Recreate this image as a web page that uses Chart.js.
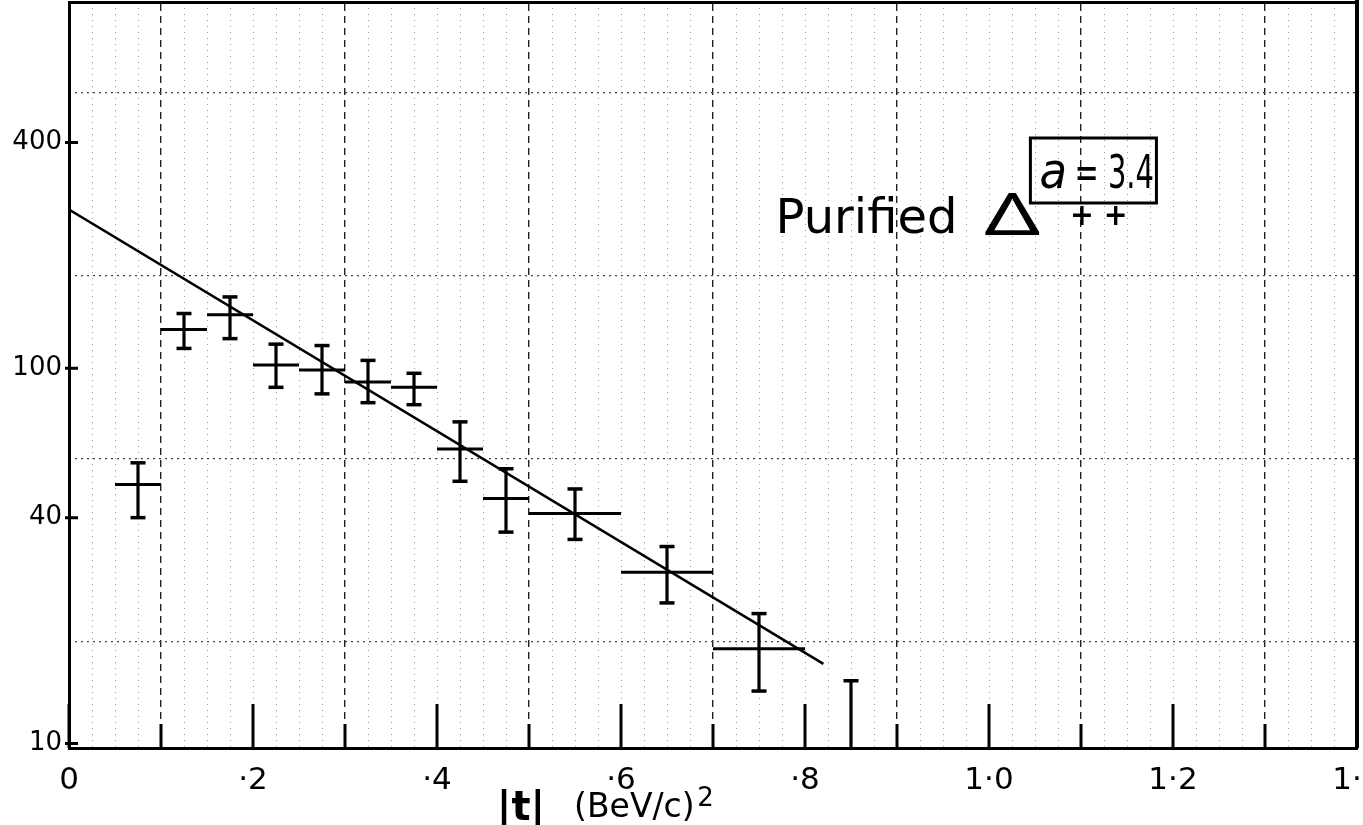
<!DOCTYPE html>
<html>
<head>
<meta charset="utf-8">
<script src="https://cdn.jsdelivr.net/npm/chart.js@4.4.0/dist/chart.umd.min.js"></script>
<style>
  html, body { margin: 0; padding: 0; background: #fff; }
  #wrap { width: 1363px; height: 825px; }
  canvas { display: block; }
</style>
</head>
<body>
<div id="wrap"><canvas id="c" width="1363" height="825"></canvas></div>
<script>
// ---- data ----
const tCenter   = [0.075, 0.125, 0.175, 0.225, 0.275, 0.325, 0.375, 0.425, 0.475, 0.55, 0.65, 0.75];
const tLow      = [0.05,  0.10,  0.15,  0.20,  0.25,  0.30,  0.35,  0.40,  0.45,  0.50, 0.60, 0.70];
const tHigh     = [0.10,  0.15,  0.20,  0.25,  0.30,  0.35,  0.40,  0.45,  0.50,  0.60, 0.70, 0.80];
const counts    = [49,    127,   139,   102,   99,    92,    89,    61,    45,    41,   28.6, 17.9];
const countLow  = [40,    113,   120,   89,    85.5,  81,    80,    50,    36.6,  35,   23.7, 13.8];
const countHigh = [56,    140,   155,   116,   115,   105,   97,    72,    54,    47.7, 33.5, 22.2];
// upper-limit bar (runs down below the axis)
const limitT    = [0.85];
const limitHigh = [14.7];
const limitLow  = [1];
// fitted line, a = 3.4
const fitT      = [0, 0.82];
const fitCounts = [265, 16.3];
// ticks
const xTickValues = [0, 0.1, 0.2, 0.3, 0.4, 0.5, 0.6, 0.7, 0.8, 0.9, 1.0, 1.1, 1.2, 1.3, 1.4];
const xTickLabels = ['0', '·2', '·4', '·6', '·8', '1·0', '1·2', '1·4'];
const yTicks      = [10, 40, 100, 400];
const yTickLabels = ['10', '40', '100', '400'];
// graph-paper lines
const paperMajorX = [0.1, 0.3, 0.5, 0.7, 0.9, 1.1, 1.3];
const paperRows   = [0, 1, 2, 3];

// ---- build datasets from the arrays ----
const hbarData = [];
tLow.forEach((lo, i) => {
  hbarData.push({x: lo, y: counts[i]}, {x: tHigh[i], y: counts[i]}, {x: tHigh[i], y: null});
});
const vbarData = [];
tCenter.forEach((t, i) => {
  vbarData.push({x: t, y: countLow[i]}, {x: t, y: countHigh[i]}, {x: t, y: null});
});
limitT.forEach((t, i) => {
  vbarData.push({x: t, y: limitLow[i]}, {x: t, y: limitHigh[i]}, {x: t, y: null});
});
const fitData = fitT.map((t, i) => ({x: t, y: fitCounts[i]}));

const FONT = 'DejaVu Sans';

const inwardTicks = {
  id: 'inwardTicks',
  afterDraw(chart) {
    const {ctx, chartArea: a} = chart;
    const sx = chart.scales.x, sy = chart.scales.y;
    ctx.save();
    ctx.strokeStyle = '#000';
    ctx.lineWidth = 3;
    ctx.beginPath();
    sx.ticks.forEach((t, i) => {
      const px = sx.getPixelForValue(t.value);
      const len = i % 2 === 0 ? 44 : 24;
      ctx.moveTo(px, a.bottom);
      ctx.lineTo(px, a.bottom - len);
    });
    sy.ticks.forEach(t => {
      const py = sy.getPixelForValue(t.value);
      ctx.moveTo(a.left - 4, py);
      ctx.lineTo(a.left + 9, py);
    });
    ctx.stroke();
    ctx.restore();
  }
};

function scaledText(ctx, text, x, y, font, sx) {
  ctx.save();
  ctx.font = font;
  ctx.translate(x, y);
  ctx.scale(sx, 1);
  ctx.fillText(text, 0, 0);
  ctx.restore();
}

const notes = {
  id: 'notes',
  afterDraw(chart) {
    const {ctx} = chart;
    const sx = chart.scales.x;
    ctx.save();
    ctx.fillStyle = '#000';
    ctx.strokeStyle = '#000';
    ctx.textBaseline = 'alphabetic';
    ctx.textAlign = 'left';
    // boxed "a = 3.4"
    const bx0 = sx.getPixelForValue(1.045), bx1 = sx.getPixelForValue(1.182);
    ctx.lineWidth = 3;
    ctx.strokeRect(bx0, 138, bx1 - bx0, 65);
    scaledText(ctx, 'a', bx0 + 9, 188, 'italic 50px "' + FONT + '"', 0.9);
    scaledText(ctx, '= 3.4', bx0 + 44, 188, '46px "' + FONT + '"', 0.63);
    // Purified Delta++
    scaledText(ctx, 'Purified', sx.getPixelForValue(0.768), 233, '48px "' + FONT + '"', 1.0);
    scaledText(ctx, 'Δ', sx.getPixelForValue(0.995), 235, '58px "Noto Sans"', 1.5);
    scaledText(ctx, '+ +', sx.getPixelForValue(1.088), 225, 'bold 30px "' + FONT + '"', 0.95);
    // axis title
    scaledText(ctx, '|t|', sx.getPixelForValue(0.465), 820, 'bold 40px "' + FONT + '"', 1.0);
    scaledText(ctx, '(BeV/c)', sx.getPixelForValue(0.549), 817, '33px "' + FONT + '"', 1.0);
    scaledText(ctx, '2', sx.getPixelForValue(0.683), 806, '26px "' + FONT + '"', 1.0);
    ctx.restore();
  }
};

const zeroH = s => { s.height = 0; s.paddingLeft = 0; s.paddingRight = 0; };
const zeroW = s => { s.width = 0; s.paddingTop = 0; s.paddingBottom = 0; };

new Chart(document.getElementById('c'), {
  type: 'line',
  data: {
    datasets: [
      { label: 'fit', data: fitData, borderColor: '#000', borderWidth: 2.5, pointRadius: 0, fill: false, order: 3 },
      { label: 'hbars', data: hbarData, borderColor: '#000', borderWidth: 3, pointRadius: 0, spanGaps: false, fill: false, order: 2 },
      { label: 'vbars', data: vbarData, borderColor: '#000', borderWidth: 3.2, spanGaps: false, fill: false,
        pointStyle: 'line', pointRadius: 7.5, pointBorderWidth: 3.5, pointBorderColor: '#000', pointBackgroundColor: '#000', order: 1 }
    ]
  },
  options: {
    responsive: false,
    animation: false,
    devicePixelRatio: 1,
    layout: { autoPadding: false, padding: { top: 2, right: 6, left: 0, bottom: 0 } },
    plugins: { legend: { display: false }, tooltip: { enabled: false } },
    elements: { line: { tension: 0 } },
    scales: {
      x: {
        type: 'linear', position: 'bottom', min: 0, max: 1.4,
        afterBuildTicks: s => { s.ticks = xTickValues.map(v => ({value: v})); },
        afterFit: s => { s.height = 77; s.paddingLeft = 0; s.paddingRight = 0; },
        grid: { drawOnChartArea: false, drawTicks: false },
        border: { display: true, color: '#000', width: 3 },
        ticks: { autoSkip: false, maxRotation: 0, minRotation: 0, padding: 14, color: '#000',
                 font: { family: FONT, size: 31 },
                 callback: (v, i) => (i % 2 === 0 ? xTickLabels[i / 2] : '') }
      },
      xPaper: {
        type: 'linear', position: 'top', min: 0, max: 1.4,
        afterBuildTicks: s => { s.ticks = paperMajorX.map(v => ({value: v})); },
        afterFit: zeroH,
        grid: { drawTicks: false, color: '#222', lineWidth: 1.4 },
        border: { display: true, color: '#000', width: 3, dash: [7, 5] },
        ticks: { display: false }
      },
      xFine: {
        type: 'linear', position: 'top', min: 0, max: 1.4,
        afterBuildTicks: s => { const t = []; for (let k = 1; k < 56; k++) { if (k % 8 !== 4) t.push({value: k * 0.025}); } s.ticks = t; },
        afterFit: zeroH,
        grid: { drawTicks: false, color: '#9a9a9a', lineWidth: 1 },
        border: { display: false, dash: [1, 5] },
        ticks: { display: false }
      },
      y: {
        type: 'logarithmic', position: 'left', min: 9.73, max: 947,
        afterBuildTicks: s => { s.ticks = yTicks.map(v => ({value: v})); },
        afterFit: s => { s.width = 69; s.paddingTop = 0; s.paddingBottom = 0; },
        grid: { drawOnChartArea: false, drawTicks: false },
        border: { display: true, color: '#000', width: 3 },
        ticks: { padding: 7, color: '#000', font: { family: FONT, size: 26 },
                 callback: (v, i) => yTickLabels[i] }
      },
      yPaper: {
        type: 'linear', position: 'right', min: -0.579, max: 3.497,
        afterBuildTicks: s => { s.ticks = paperRows.map(v => ({value: v})); },
        afterFit: zeroW,
        grid: { drawTicks: false, color: '#444', lineWidth: 1.2 },
        border: { display: true, color: '#000', width: 4, dash: [2, 4] },
        ticks: { display: false }
      }
    }
  },
  plugins: [inwardTicks, notes]
});
</script>
</body>
</html>
